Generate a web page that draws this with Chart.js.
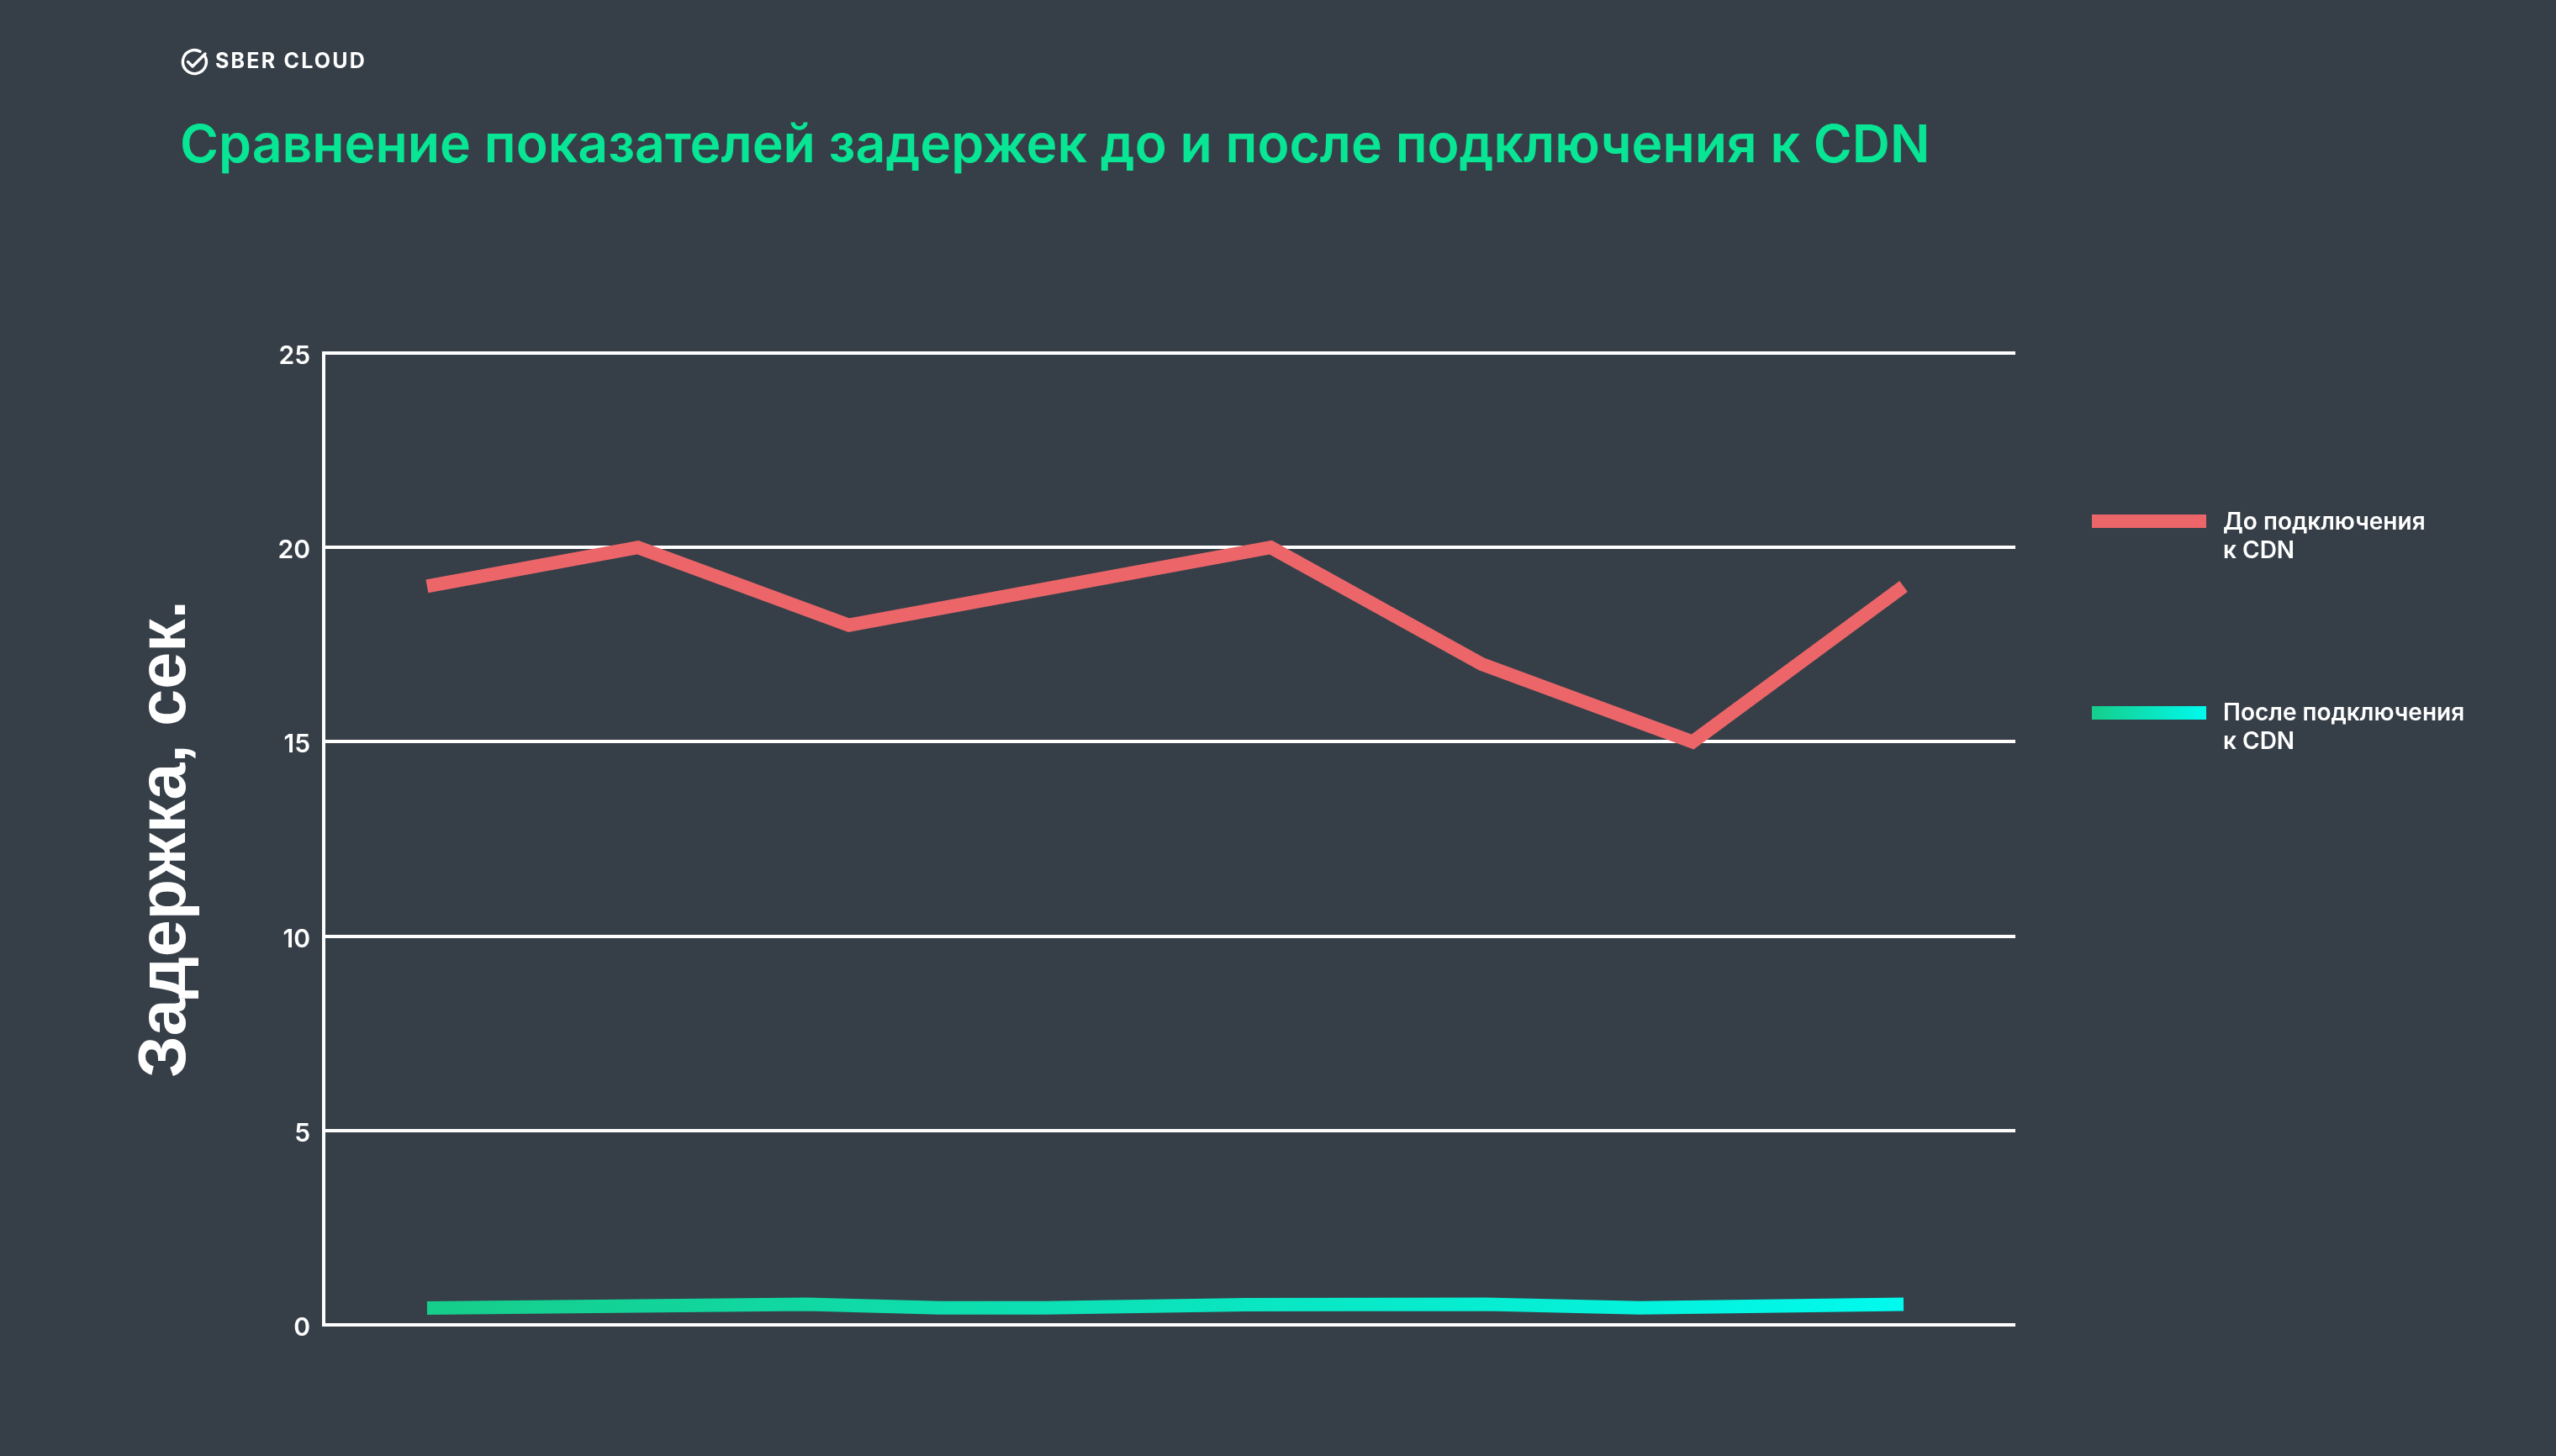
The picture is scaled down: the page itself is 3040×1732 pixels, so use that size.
<!DOCTYPE html>
<html lang="ru">
<head>
<meta charset="utf-8">
<title>Сравнение показателей задержек</title>
<script src="https://cdn.jsdelivr.net/npm/chart.js@4"></script>
<style>
  html, body { margin: 0; padding: 0; }
  body {
    width: 3040px; height: 1732px; overflow: hidden;
    background: #363f48; position: relative;
    font-family: Inter, "Noto Sans", sans-serif;
  }
  #chart { position: absolute; left: 0; top: 0; }
  .logo { position: absolute; left: 213px; top: 56px; }
  .brand {
    position: absolute; left: 256px; top: 57px;
    color: #fff; font-size: 25px; font-weight: 700; letter-spacing: 2.2px;
    line-height: 30px;
  }
  h1 {
    position: absolute; left: 214px; top: 138px; margin: 0;
    color: #08e594; font-size: 62.5px; font-weight: 600; line-height: 64px;
    white-space: nowrap;
  }
  .legend-item { position: absolute; left: 2488px; }
  .legend-item .sw { position: absolute; left: 0; width: 136px; height: 16px; }
  .legend-item .txt {
    position: absolute; left: 156px; top: 0; width: 400px;
    color: #fff; font-size: 28px; font-weight: 600; line-height: 34px;
  }
</style>
</head>
<body>
<canvas id="chart" width="3040" height="1732"></canvas>

<svg class="logo" width="36" height="36" viewBox="0 0 36 36">
  <path d="M30.5 10.5 A14 14 0 1 1 25 5.2" fill="none" stroke="#fff" stroke-width="3.4" stroke-linecap="round"/>
  <path d="M10.5 17.5 L16 23 L31 8" fill="none" stroke="#fff" stroke-width="3.4" stroke-linecap="round" stroke-linejoin="round"/>
</svg>
<div class="brand">SBER CLOUD</div>
<h1>Сравнение показателей задержек до и после подключения к CDN</h1>

<div class="legend-item" style="top:603px">
  <div class="sw" id="sw0" style="top:9px"></div>
  <div class="txt" id="lg0"></div>
</div>
<div class="legend-item" style="top:830px">
  <div class="sw" id="sw1" style="top:10px"></div>
  <div class="txt" id="lg1"></div>
</div>

<script>
// данные
var seriesNames = ['До подключения к CDN', 'После подключения к CDN'];
var legendLines = [['До подключения', 'к CDN'], ['После подключения', 'к CDN']];
var yTicks = [0, 5, 10, 15, 20, 25];
var axisTitle = 'Задержка, сек.';

// до подключения: точки по порядку 0..7
var beforeValues = [19, 20, 18, 19, 20, 17, 15, 19];
// после подключения: линия нарисована с изломами в других местах
var afterPositions = [0, 1.8, 2.43, 2.93, 3.88, 5.02, 5.75, 7];
var afterValues = [0.43, 0.53, 0.44, 0.44, 0.52, 0.53, 0.44, 0.53];

var redColor = '#ec6669';
var greenFrom = '#16cd8a';
var greenTo = '#00faee';

// легенда
for (var i = 0; i < 2; i++) {
  document.getElementById('lg' + i).innerHTML = legendLines[i].join('<br>');
}
document.getElementById('sw0').style.background = redColor;
document.getElementById('sw1').style.background = 'linear-gradient(to right,' + greenFrom + ',' + greenTo + ')';

function greenLine(context) {
  var chart = context.chart;
  if (!chart.chartArea) return greenFrom;
  var x = chart.scales.x;
  var g = chart.ctx.createLinearGradient(x.getPixelForValue(afterPositions[0]), 0,
    x.getPixelForValue(afterPositions[afterPositions.length - 1]), 0);
  g.addColorStop(0, greenFrom);
  g.addColorStop(1, greenTo);
  return g;
}

var data = {
  datasets: [{
    label: seriesNames[0],
    data: beforeValues.map(function (v, i) { return {x: i, y: v}; }),
    borderColor: redColor,
    borderWidth: 16,
    pointRadius: 0,
    tension: 0
  }, {
    label: seriesNames[1],
    data: afterValues.map(function (v, i) { return {x: afterPositions[i], y: v}; }),
    borderColor: greenLine,
    borderWidth: 16,
    pointRadius: 0,
    tension: 0
  }]
};

var config = {
  type: 'line',
  data: data,
  options: {
    responsive: false,
    animation: false,
    layout: { padding: { left: 0, top: 420, right: 643, bottom: 156 } },
    plugins: { legend: { display: false }, tooltip: { enabled: false } },
    scales: {
      x: { type: 'linear', min: -0.49, max: 7.53, display: false },
      y: {
        z: 1,
        min: 0, max: 25,
        afterBuildTicks: function (scale) {
          scale.ticks = yTicks.map(function (v) { return {value: v}; });
        },
        afterFit: function (scale) { scale.width = 385; },
        grid: { color: '#ffffff', lineWidth: 4, drawTicks: false },
        border: { color: '#ffffff', width: 4 },
        ticks: {
          color: '#ffffff', padding: 16, labelOffset: 4,
          font: { family: 'Inter', size: 30, weight: '600' }
        },
        title: {
          display: true, text: axisTitle, color: '#ffffff',
          font: { family: 'Liberation Sans', size: 79, weight: 'bold' },
          padding: { top: 151, bottom: 0 }
        }
      }
    }
  }
};

var linechart = new Chart(document.getElementById('chart'), config);
</script>
</body>
</html>
